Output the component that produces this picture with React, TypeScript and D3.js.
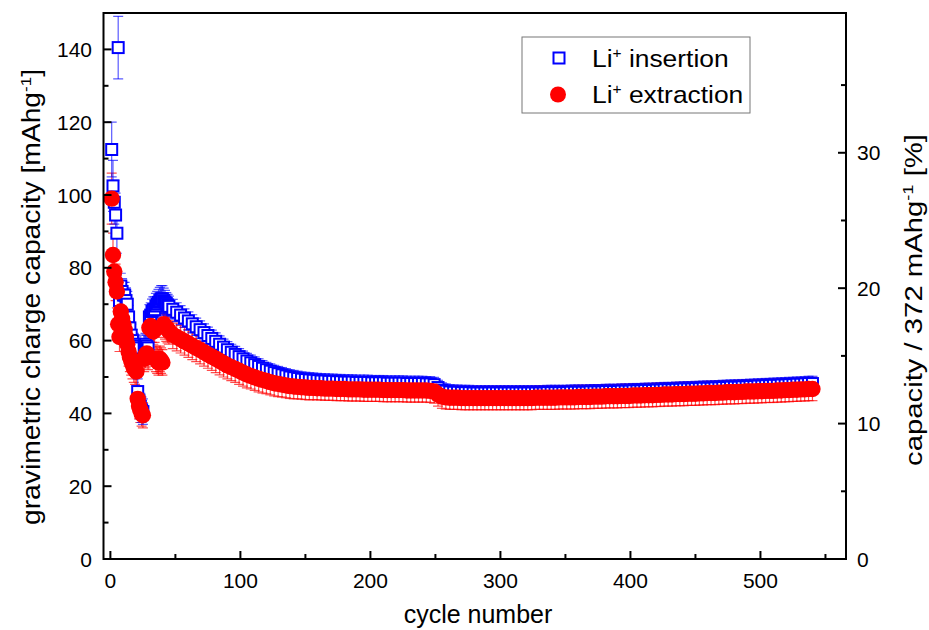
import React from "react";
import * as d3 from "d3";

// cycle index: every cycle for the first 45, then every third cycle
const cycles: number[] = [...d3.range(1, 46), ...d3.range(48, 541, 3)];

const insertion: number[] = [
  112.5, 102.5, 98.0, 94.5, 89.5, 140.5, 71.0, 75.0, 73.5, 72.5,
  72.5, 71.0, 70.0, 66.5, 63.5, 61.5, 60.0, 59.0, 58.5, 58.0,
  46.0, 43.5, 42.0, 41.0, 40.5, 58.5, 59.0, 58.5, 58.0, 66.5,
  67.0, 68.0, 68.5, 68.5, 69.5, 70.0, 70.5, 71.0, 71.5, 71.5,
  71.0, 70.6, 70.2, 69.8, 69.4,
  68.6, 67.8, 67.0, 66.2, 65.4, 64.6, 63.8, 63.0, 62.2, 61.4,
  60.6, 59.8, 59.0, 58.2, 57.5, 56.8, 56.2, 55.6, 55.0, 54.4,
  53.9, 53.4, 52.9, 52.4, 52.0, 51.6, 51.2, 50.9, 50.6, 50.3,
  50.0, 49.8, 49.6, 49.4, 49.3, 49.2, 49.1, 49.0, 48.9, 48.9,
  48.8, 48.8, 48.7, 48.7, 48.6, 48.6, 48.6, 48.5, 48.5, 48.5,
  48.5, 48.4, 48.4, 48.4, 48.4, 48.3, 48.3, 48.3, 48.3, 48.3,
  48.2, 48.2, 48.2, 48.2, 48.2, 48.1, 48.1, 47.9, 47.1, 46.4,
  46.1, 45.9, 45.8, 45.8, 45.7, 45.7, 45.7, 45.6, 45.6, 45.6,
  45.6, 45.6, 45.6, 45.6, 45.6, 45.6, 45.6, 45.6, 45.6, 45.6,
  45.6, 45.6, 45.6, 45.6, 45.6, 45.6, 45.7, 45.7, 45.7, 45.7,
  45.7, 45.7, 45.8, 45.8, 45.8, 45.8, 45.8, 45.9, 45.9, 45.9,
  45.9, 46.0, 46.0, 46.0, 46.0, 46.1, 46.1, 46.1, 46.2, 46.2,
  46.2, 46.3, 46.3, 46.3, 46.4, 46.4, 46.5, 46.5, 46.5, 46.6,
  46.6, 46.7, 46.7, 46.7, 46.8, 46.8, 46.9, 46.9, 46.9, 47.0,
  47.0, 47.1, 47.1, 47.2, 47.2, 47.2, 47.3, 47.3, 47.4, 47.4,
  47.5, 47.5, 47.6, 47.6, 47.7, 47.7, 47.8, 47.8, 47.9, 47.9,
  48.0, 48.0, 48.1, 48.2, 48.2,
];

const insertionErr: number[] = [
  7.5, 7.0, 6.0, 6.0, 5.5, 8.6, 3.5, 3.5, 3.5, 3.5,
  3.5, 3.5, 3.5, 3.2, 3.0, 3.0, 3.0, 3.0, 3.0, 3.0,
  3.5, 3.5, 3.5, 3.5, 3.5, 3.0, 3.0, 3.0, 3.0, 3.4,
  3.4, 3.4, 3.5, 3.5, 3.5, 3.5, 3.6, 3.6, 3.6, 3.6,
  3.4, 3.2, 3.0, 2.9, 2.8,
  2.7, 2.6, 2.6, 2.5, 2.5, 2.5, 2.4, 2.4, 2.4, 2.3,
  2.3, 2.3, 2.3, 2.2, 2.2, 2.2, 2.2, 2.2, 2.1, 2.1,
  2.1, 2.1, 2.1, 2.1, 2.0, 2.0, 2.0, 2.0, 2.0, 2.0,
  2.0, 2.0, 2.0, 2.0, 2.0, 2.0, 2.0, 2.0, 2.0, 2.0,
  2.0, 2.0, 2.0, 2.0, 2.0, 2.0, 2.0, 2.0, 2.0, 2.0,
  2.0, 2.0, 2.0, 2.0, 2.0, 2.0, 2.0, 2.0, 2.0, 2.0,
  2.0, 2.0, 2.0, 2.0, 2.0, 2.0, 2.0, 2.0, 2.0, 2.0,
  2.0, 2.0, 2.0, 2.0, 2.0, 2.0, 2.0, 2.0, 2.0, 2.0,
  2.0, 2.0, 2.0, 2.0, 2.0, 2.0, 2.0, 2.0, 2.0, 2.0,
  2.0, 2.0, 2.0, 2.0, 2.0, 2.0, 2.0, 2.0, 2.0, 2.0,
  2.0, 2.0, 2.0, 2.0, 2.0, 2.0, 2.0, 2.0, 2.0, 2.0,
  2.0, 2.0, 2.0, 2.0, 2.0, 2.0, 2.0, 2.0, 2.0, 2.0,
  2.0, 2.0, 2.0, 2.0, 2.0, 2.0, 2.0, 2.0, 2.0, 2.0,
  2.0, 2.0, 2.0, 2.0, 2.0, 2.0, 2.0, 2.0, 2.0, 2.0,
  2.0, 2.0, 2.0, 2.0, 2.0, 2.0, 2.0, 2.0, 2.0, 2.0,
  2.0, 2.0, 2.0, 2.0, 2.0, 2.0, 2.0, 2.0, 2.0, 2.0,
  2.0, 2.0, 2.0, 2.0, 2.0,
];

const extraction: number[] = [
  99.0, 83.5, 79.0, 76.0, 73.5, 64.5, 61.0, 68.0, 66.0, 64.5,
  63.0, 61.0, 59.0, 57.0, 55.5, 54.5, 53.5, 52.5, 52.0, 51.5,
  44.0, 42.0, 41.0, 40.0, 39.5, 55.0, 56.0, 56.5, 55.5, 63.5,
  64.0, 63.0, 62.5, 63.0, 55.0, 54.5, 54.0, 55.0, 54.5, 54.0,
  64.5, 64.0, 63.5, 63.1, 62.7,
  61.6, 61.0, 60.4, 59.8, 59.2, 58.6, 58.0, 57.4, 56.8, 56.2,
  55.6, 55.0, 54.4, 53.8, 53.2, 52.7, 52.2, 51.7, 51.2, 50.7,
  50.3, 49.9, 49.5, 49.2, 48.9, 48.6, 48.3, 48.1, 47.9, 47.7,
  47.5, 47.4, 47.3, 47.2, 47.1, 47.0, 47.0, 46.9, 46.9, 46.8,
  46.8, 46.8, 46.7, 46.7, 46.7, 46.6, 46.6, 46.6, 46.6, 46.5,
  46.5, 46.5, 46.5, 46.5, 46.4, 46.4, 46.4, 46.4, 46.4, 46.4,
  46.3, 46.3, 46.3, 46.3, 46.3, 46.3, 46.2, 46.0, 45.2, 44.6,
  44.4, 44.3, 44.3, 44.3, 44.2, 44.2, 44.2, 44.2, 44.2, 44.2,
  44.2, 44.2, 44.2, 44.2, 44.2, 44.2, 44.2, 44.2, 44.2, 44.2,
  44.2, 44.2, 44.2, 44.3, 44.3, 44.3, 44.3, 44.3, 44.3, 44.4,
  44.4, 44.4, 44.4, 44.4, 44.5, 44.5, 44.5, 44.5, 44.6, 44.6,
  44.6, 44.7, 44.7, 44.7, 44.7, 44.8, 44.8, 44.8, 44.9, 44.9,
  44.9, 45.0, 45.0, 45.0, 45.1, 45.1, 45.2, 45.2, 45.2, 45.3,
  45.3, 45.3, 45.4, 45.4, 45.4, 45.5, 45.5, 45.6, 45.6, 45.6,
  45.7, 45.7, 45.8, 45.8, 45.8, 45.9, 45.9, 46.0, 46.0, 46.0,
  46.1, 46.1, 46.2, 46.2, 46.2, 46.3, 46.3, 46.4, 46.4, 46.5,
  46.5, 46.6, 46.6, 46.7, 46.7,
];

const extractionErr: number[] = [
  7.0, 6.0, 5.0, 5.0, 4.5, 4.0, 4.0, 4.0, 4.0, 4.0,
  4.0, 4.0, 4.0, 4.0, 4.0, 4.0, 4.0, 4.0, 4.0, 4.0,
  3.5, 3.5, 3.5, 3.5, 3.5, 3.5, 3.5, 3.5, 3.5, 3.5,
  3.5, 3.5, 3.5, 3.5, 3.5, 3.5, 3.5, 3.5, 3.5, 3.5,
  3.6, 3.6, 3.7, 3.7, 3.7,
  3.8, 3.8, 3.8, 3.8, 3.8, 3.8, 3.8, 3.8, 3.8, 3.8,
  3.8, 3.8, 3.8, 3.8, 3.7, 3.7, 3.7, 3.7, 3.7, 3.7,
  3.6, 3.6, 3.6, 3.6, 3.5, 3.5, 3.5, 3.5, 3.4, 3.4,
  3.4, 3.4, 3.3, 3.3, 3.3, 3.3, 3.2, 3.2, 3.2, 3.2,
  3.2, 3.2, 3.2, 3.2, 3.2, 3.2, 3.2, 3.2, 3.2, 3.2,
  3.2, 3.2, 3.2, 3.2, 3.2, 3.2, 3.2, 3.2, 3.2, 3.2,
  3.2, 3.2, 3.2, 3.2, 3.2, 3.2, 3.2, 3.2, 3.2, 3.2,
  3.2, 3.2, 3.2, 3.2, 3.2, 3.2, 3.2, 3.2, 3.2, 3.2,
  3.2, 3.2, 3.2, 3.2, 3.2, 3.2, 3.2, 3.2, 3.2, 3.2,
  3.2, 3.2, 3.2, 3.2, 3.2, 3.2, 3.2, 3.2, 3.2, 3.2,
  3.2, 3.2, 3.2, 3.2, 3.2, 3.2, 3.2, 3.2, 3.2, 3.2,
  3.2, 3.2, 3.2, 3.2, 3.2, 3.2, 3.2, 3.2, 3.2, 3.2,
  3.2, 3.2, 3.2, 3.2, 3.2, 3.2, 3.2, 3.2, 3.2, 3.2,
  3.2, 3.2, 3.2, 3.2, 3.2, 3.2, 3.2, 3.2, 3.2, 3.2,
  3.2, 3.2, 3.2, 3.2, 3.2, 3.2, 3.2, 3.2, 3.2, 3.2,
  3.2, 3.2, 3.2, 3.2, 3.2, 3.2, 3.2, 3.2, 3.2, 3.2,
  3.2, 3.2, 3.2, 3.2, 3.2,
];

const xTicks = [0, 100, 200, 300, 400, 500];
const xMinor = [50, 150, 250, 350, 450, 550];
const yTicks = [0, 20, 40, 60, 80, 100, 120, 140];
const yMinor = [10, 30, 50, 70, 90, 110, 130, 150];
const rTicks = [0, 10, 20, 30];
const rMinor = [5, 15, 25, 35];
const seriesNames = ["insertion", "extraction"];

const FONT = "'Liberation Sans', Arial, sans-serif";

export default function App() {
  const W = 929, H = 630;
  const L = 103.5, R = 846, T = 13, B = 559;
  const x = d3.scaleLinear().domain([-5.3, 565.8]).range([L, R]);
  const y = d3.scaleLinear().domain([0, 150]).range([B, T]);
  const yR = d3.scaleLinear().domain([0, 150 / 3.72]).range([B, T]);

  const blue = "#0000ff";
  const red = "#ff0000";
  const sq = 11;
  const rad = 8.2;
  const cap = 5;

  const errBars = (vals: number[], errs: number[], color: string, op: number) =>
    cycles.map((c, i) => {
      const cx = x(c);
      const y1 = y(vals[i] + errs[i]);
      const y2 = y(vals[i] - errs[i]);
      return (
        <g key={i} stroke={color} strokeOpacity={op} strokeWidth={1.2}>
          <line x1={cx} x2={cx} y1={y1} y2={y2} />
          <line x1={cx - cap} x2={cx + cap} y1={y1} y2={y1} />
          <line x1={cx - cap} x2={cx + cap} y1={y2} y2={y2} />
        </g>
      );
    });

  const tickLen = 8, minorLen = 5;

  return (
    <div style={{ position: "absolute", left: 0, top: 0 }}>
      <svg width={W} height={H} style={{ display: "block", background: "#fff" }} fontFamily={FONT}>
        <rect x={0} y={0} width={W} height={H} fill="#fff" />
        <defs>
          <clipPath id="plotclip">
            <rect x={L} y={T} width={R - L} height={B - T} />
          </clipPath>
        </defs>
        <g clipPath="url(#plotclip)">
          {errBars(extraction, extractionErr, red, 0.7)}
          {errBars(insertion, insertionErr, blue, 0.65)}
          {cycles.map((c, i) => (
            <rect key={"s" + i} x={x(c) - sq / 2} y={y(insertion[i]) - sq / 2} width={sq} height={sq}
              fill="#fff" stroke={blue} strokeWidth={2} />
          ))}
          {cycles.map((c, i) => (
            <circle key={"c" + i} cx={x(c)} cy={y(extraction[i])} r={rad} fill={red} />
          ))}
        </g>

        {/* frame */}
        <rect x={L} y={T} width={R - L} height={B - T} fill="none" stroke="#000" strokeWidth={2} />

        {/* bottom ticks */}
        {xTicks.map((t) => (
          <g key={"xt" + t}>
            <line x1={x(t)} x2={x(t)} y1={B} y2={B - tickLen} stroke="#000" strokeWidth={2} />
            <text x={x(t)} y={588} fontSize={21} textAnchor="middle" fill="#000">{t}</text>
          </g>
        ))}
        {xMinor.map((t) => (
          <line key={"xm" + t} x1={x(t)} x2={x(t)} y1={B} y2={B - minorLen} stroke="#000" strokeWidth={2} />
        ))}

        {/* left ticks */}
        {yTicks.map((t) => (
          <g key={"yt" + t}>
            <line x1={L} x2={L + tickLen} y1={y(t)} y2={y(t)} stroke="#000" strokeWidth={2} />
            <text x={92} y={y(t) + 7.5} fontSize={21} textAnchor="end" fill="#000">{t}</text>
          </g>
        ))}
        {yMinor.map((t) => (
          <line key={"ym" + t} x1={L} x2={L + minorLen} y1={y(t)} y2={y(t)} stroke="#000" strokeWidth={2} />
        ))}

        {/* right ticks */}
        {rTicks.map((t) => (
          <g key={"rt" + t}>
            <line x1={R} x2={R - tickLen} y1={yR(t)} y2={yR(t)} stroke="#000" strokeWidth={2} />
            <text x={857} y={yR(t) + 7.5} fontSize={21} textAnchor="start" fill="#000">{t}</text>
          </g>
        ))}
        {rMinor.map((t) => (
          <line key={"rm" + t} x1={R} x2={R - minorLen} y1={yR(t)} y2={yR(t)} stroke="#000" strokeWidth={2} />
        ))}

        {/* axis titles */}
        <text x={478} y={623} fontSize={25} textAnchor="middle" fill="#000">cycle number</text>
        <g transform="translate(40, 297) rotate(-90) scale(1.13, 1)">
          <text x={0} y={0} fontSize={25} textAnchor="middle" fill="#000">
            gravimetric charge capacity [mAhg<tspan dy={-9} fontSize={15}>-1</tspan><tspan dy={9}>]</tspan>
          </text>
        </g>
        <g transform="translate(922, 300) rotate(-90) scale(1.22, 1)">
          <text x={0} y={0} fontSize={24} textAnchor="middle" fill="#000">
            capacity / 372 mAhg<tspan dy={-9} fontSize={15}>-1</tspan><tspan dy={9}> [%]</tspan>
          </text>
        </g>

        {/* legend */}
        <rect x={522} y={37} width={228} height={76} fill="#fff" stroke="#777" strokeWidth={1} />
        <rect x={559 - 5.5} y={58 - 5.5} width={11} height={11} fill="#fff" stroke={blue} strokeWidth={2} />
        <circle cx={558} cy={94.5} r={8} fill={red} />
        <g transform="translate(592, 67) scale(1.1, 1)">
          <text x={0} y={0} fontSize={24} fill="#000">
            Li<tspan dy={-9} fontSize={14}>+</tspan><tspan dy={9}> {seriesNames[0]}</tspan>
          </text>
        </g>
        <g transform="translate(592, 103) scale(1.1, 1)">
          <text x={0} y={0} fontSize={24} fill="#000">
            Li<tspan dy={-9} fontSize={14}>+</tspan><tspan dy={9}> {seriesNames[1]}</tspan>
          </text>
        </g>
      </svg>
    </div>
  );
}
